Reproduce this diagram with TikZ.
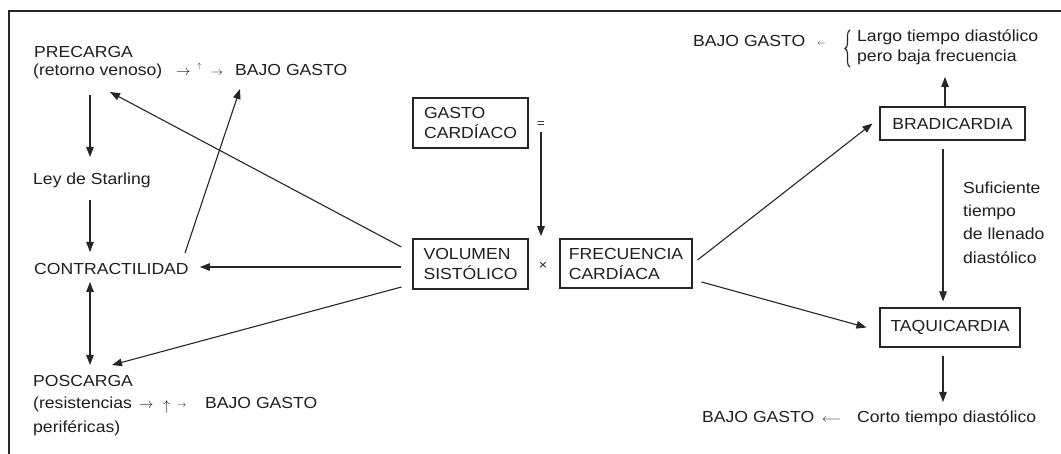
\documentclass[tikz,border=0pt]{standalone}
\usepackage{fontspec}
\setmainfont{Liberation Sans}[FakeStretch=1.1]
\usetikzlibrary{arrows.meta,decorations.pathreplacing}
\begin{document}
\begin{tikzpicture}[x=1pt,y=-1pt,
  every node/.style={text=black!88},
  txt/.style={anchor=base west, inner sep=0pt, font=\fontsize{16}{20}\selectfont},
  sym/.style={anchor=base west, inner sep=0pt},
  box/.style={draw=black!85, line width=1.1pt, inner sep=0pt, align=left, font=\fontsize{16}{20}\selectfont},
  arr/.style={-{Triangle[length=10pt,width=7.5pt]}, line width=1.1pt, draw=black!85},
  darr/.style={{Triangle[length=10pt,width=7.5pt]}-{Triangle[length=10pt,width=7.5pt]}, line width=1.1pt, draw=black!85},
  curly/.style={decorate, decoration={brace, amplitude=5pt}, line width=1.1pt, draw=black!85}
]
\useasboundingbox (0,0) rectangle (1061,454);
\fill[white] (0,0) rectangle (1061,454);
% frame
\draw[line width=1.8pt, black!85] (9,454) -- (9,11) -- (1061,11);

% left column
\node[txt] (prec) at (34,58) {PRECARGA};
\node[txt] (retv) at (33,76) {(retorno venoso)};
\node[sym, font=\fontsize{15}{16}\selectfont] (ar1) at (176,76) {$\rightarrow$};
\node[sym, font=\fontsize{8}{10}\selectfont] (up1) at (197,69) {$\uparrow$};
\node[sym, font=\fontsize{13}{14}\selectfont] (ar2) at (211,76) {$\rightarrow$};
\node[txt] (bg1) at (235,76) {BAJO GASTO};
\node[txt] (ley) at (33,185) {Ley de Starling};
\node[txt] (contr) at (34,275) {CONTRACTILIDAD};
\node[txt] (posc) at (33,387) {POSCARGA};
\node[txt] (resis) at (33,409) {(resistencias};
\node[sym, font=\fontsize{15}{16}\selectfont] (ar3) at (139,409) {$\rightarrow$};
\node[sym, font=\fontsize{14}{14}\selectfont] (up2) at (163,410) {$\uparrow$};
\node[sym, font=\fontsize{9}{12}\selectfont] (ar4) at (177,408) {$\rightarrow$};
\node[txt] (bg2) at (205,409) {BAJO GASTO};
\node[txt] (perif) at (33,432) {periféricas)};

% centre
\node[box, minimum width=115pt, minimum height=50pt] (gasto) at (470.5,123) {GASTO\\CARDÍACO};
\node[inner sep=0pt, font=\fontsize{12}{12}\selectfont] (eq) at (541,125) {=};
\node[box, minimum width=115pt, minimum height=50pt] (vol) at (470.5,264) {VOLUMEN\\SISTÓLICO};
\node[inner sep=0pt, font=\fontsize{13}{14}\selectfont] (times) at (543,266) {×};
\node[box, minimum width=132pt, minimum height=49pt] (frec) at (626,263.5) {FRECUENCIA\\CARDÍACA};

% right
\node[txt] (bgR1) at (693,47) {BAJO GASTO};
\node[sym, font=\fontsize{8}{10}\selectfont] (la1) at (817,46) {$\leftarrow$};
\node[txt] (largo) at (857,42) {Largo tiempo diastólico};
\node[txt] (pero) at (857,62) {pero baja frecuencia};
\draw[curly] ([xshift=-7pt,yshift=-5pt]pero.base west) -- ([xshift=-7pt,yshift=12pt]largo.base west);
\node[box, minimum width=145pt, minimum height=33pt] (brad) at (952.5,123.5) {BRADICARDIA};
\node[anchor=north west, inner sep=0pt, align=left, font=\fontsize{16}{23.3}\selectfont] (sufic) at (963,181.5) {Suficiente\\tiempo\\de llenado\\diastólico};
\node[box, minimum width=140pt, minimum height=39pt] (taqui) at (950,327.5) {TAQUICARDIA};
\node[txt] (bgR2) at (702,423) {BAJO GASTO};
\node[sym, font=\fontsize{13}{14}\selectfont] (la2) at (822,423) {$\longleftarrow$};
\node[txt] (corto) at (857,423) {Corto tiempo diastólico};

% connectors left
\draw[arr] ([xshift=57pt,yshift=-19pt]retv.base west) -- ([xshift=57pt,yshift=28pt]ley.base west);
\draw[arr] ([xshift=57pt,yshift=-15pt]ley.base west) -- ([xshift=56pt,yshift=23pt]contr.base west);
\draw[darr] ([xshift=56pt,yshift=-7pt]contr.base west) -- ([xshift=57pt,yshift=22pt]posc.base west);
\draw[arr] ([xshift=-11pt,yshift=17pt]vol.west) -- ([xshift=77pt,yshift=-16pt]retv.base west);
\draw[arr] ([xshift=151pt,yshift=22pt]contr.base west) -- ([xshift=5pt,yshift=-13pt]bg1.base west);
\draw[arr] ([xshift=-11pt,yshift=-3pt]vol.west) -- ([xshift=11pt,yshift=8pt]contr.base east);
\draw[arr] ([xshift=-11pt,yshift=-23pt]vol.west) -- ([xshift=79pt,yshift=22pt]posc.base west);
% centre
\draw[arr, shorten <=4pt] (eq.south) -- ([yshift=26pt]eq.south |- times.north);
% right
\draw[arr] ([xshift=5pt,yshift=3.5pt]frec.east) -- ([xshift=-7pt]brad.west);
\draw[arr] ([xshift=9pt,yshift=-18.5pt]frec.east) -- ([xshift=-13pt]taqui.west);
\draw[arr] ([xshift=-9.5pt,yshift=-8pt]brad.south) -- ([xshift=-7pt,yshift=6pt]taqui.north);
\draw[arr] ([xshift=-7.5pt]brad.north) -- ([xshift=88pt,yshift=-15pt]pero.base west);
\draw[arr] ([xshift=-7pt,yshift=-8pt]taqui.south) -- ([xshift=86pt,yshift=21pt]corto.base west);
\end{tikzpicture}
\end{document}
